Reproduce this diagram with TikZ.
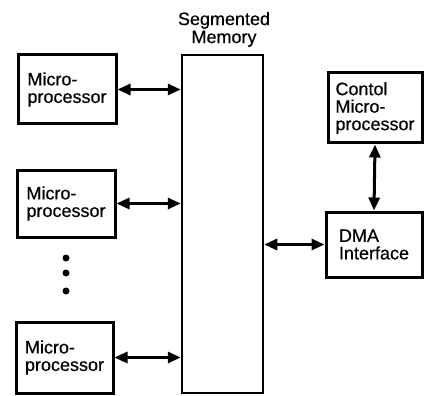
\documentclass[tikz,border=0pt]{standalone}
\usepackage{fontspec}
\setmainfont{Liberation Sans}[FakeBold=0.4]
\usetikzlibrary{arrows.meta}
\begin{document}
\begin{tikzpicture}[x=1pt,y=-1pt,
  blk/.style={draw, line width=3pt, inner sep=0pt, align=left,
    font=\fontsize{18}{17.5}\selectfont},
  link/.style={line width=3pt, {Triangle[length=13pt,width=11pt]}-{Triangle[length=13pt,width=11pt]}},
  dot/.style={circle, fill, inner sep=0pt, minimum size=7pt}]
\useasboundingbox (0,0) rectangle (427,395);
\node[blk, minimum width=98pt, minimum height=69pt] (mp1) at (67,89.5) {Micro-\\processor};
\node[blk, minimum width=98pt, minimum height=67pt] (mp2) at (66,203.5) {Micro-\\processor};
\node[blk, minimum width=97pt, minimum height=71pt] (mp3) at (64.5,357.5) {Micro-\\processor};
\node[blk, line width=2.5pt, minimum width=81pt, minimum height=338pt] (mem) at (222.5,224) {};
\node[font=\fontsize{18}{18}\selectfont, align=center, anchor=south, inner sep=0pt] (memlabel) at (224,47) {Segmented\\Memory};
\node[blk, minimum width=94pt, minimum height=70pt] (ctrl) at (375,108) {Contol\\Micro-\\processor};
\node[blk, minimum width=96pt, minimum height=65pt] (dma) at (374,244.5) {DMA\\Interface};
\node[dot] (d1) at (66,258) {};
\node[dot] (d2) at (66,273) {};
\node[dot] (d3) at (66,291) {};
\draw[link] (mp1.east) -- (mp1.east -| mem.west);
\draw[link] (mp2.east) -- (mp2.east -| mem.west);
\draw[link] (mp3.east) -- (mp3.east -| mem.west);
\draw[link] (dma.west -| mem.east) -- (dma.west);
\draw[link] (ctrl.south) -- (dma.north);
\end{tikzpicture}
\end{document}
